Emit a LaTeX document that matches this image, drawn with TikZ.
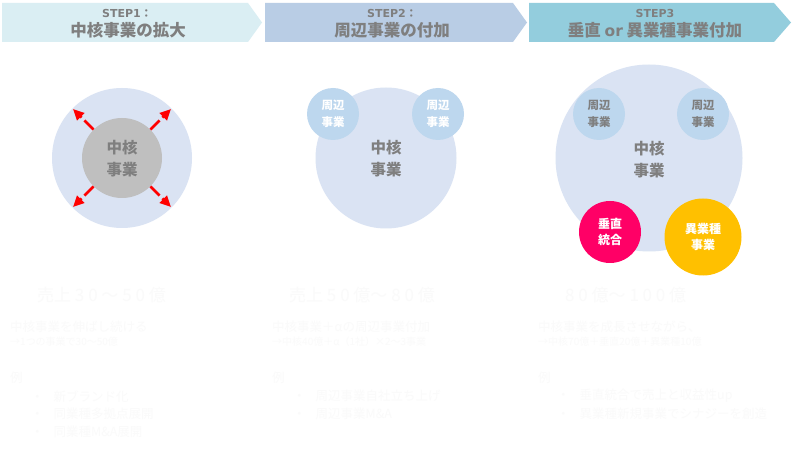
\documentclass[tikz,border=0pt]{standalone}
\usepackage{fontspec}
\setmainfont{Noto Sans CJK JP}
\newfontfamily\latinfont{DejaVu Sans}
\usetikzlibrary{arrows.meta}
\definecolor{hdrA}{HTML}{DAEEF3}
\definecolor{hdrB}{HTML}{B9CDE5}
\definecolor{hdrC}{HTML}{93CDDD}
\definecolor{txtgray}{HTML}{7F7F7F}
\definecolor{bigc}{HTML}{DAE3F3}
\definecolor{corec}{HTML}{BFBFBF}
\definecolor{peric}{HTML}{BDD7EE}
\definecolor{magc}{HTML}{FF0066}
\definecolor{yelc}{HTML}{FFC000}
\definecolor{faint}{HTML}{FAFAFA}
\tikzset{
  hdrsmall/.style={text=txtgray, font=\bfseries\fontsize{11}{13}\selectfont, inner sep=0},
  hdrbig/.style={text=txtgray, font=\bfseries\fontsize{16.5}{18}\selectfont, inner sep=0},
  bigcircle/.style={circle, fill=bigc, inner sep=0, minimum size=#1},
  corecircle/.style={circle, fill=corec, inner sep=0, minimum size=80pt},
  coretext/.style={text=txtgray, align=center, font=\bfseries\fontsize{15.5}{22}\selectfont, inner sep=0},
  pericircle/.style={circle, fill=peric, inner sep=0, minimum size=52pt, align=center,
     font=\bfseries\fontsize{11.5}{17}\selectfont},
  colcircle/.style={circle, fill=#1, inner sep=0, text=white, align=center,
     font=\bfseries\fontsize{12}{15.5}\selectfont},
  redarrow/.style={draw=red, line width=2.6pt, dash pattern=on 13pt off 4pt,
     -{Triangle[length=11pt,width=10pt]}},
  fainthead/.style={text=faint, font=\fontsize{17}{18}\selectfont, anchor=west, inner sep=0},
  faintline/.style={text=faint, font=\fontsize{12.5}{14}\selectfont, anchor=west, inner sep=0},
  faintsmall/.style={text=faint, font=\fontsize{10}{12}\selectfont, anchor=west, inner sep=0},
}
\begin{document}
\begin{tikzpicture}[x=1pt,y=-1pt]
\useasboundingbox (0,0) rectangle (798,449);
\fill[white] (0,0) rectangle (798,449);

% header arrows
\fill[hdrA] (2,3) -- (248,3) -- (262,22.5) -- (248,42) -- (2,42) -- cycle;
\fill[hdrB] (265,3) -- (513,3) -- (527,22.5) -- (513,42) -- (265,42) -- cycle;
\fill[hdrC] (529,3) -- (774,3) -- (791,22.5) -- (774,42) -- (529,42) -- cycle;

\node[hdrsmall] (h1a) at (127,13) {{\latinfont STEP1}：};
\node[hdrbig]   (h1b) at (128,30) {中核事業の拡大};
\node[hdrsmall] (h2a) at (392,13) {{\latinfont STEP2}：};
\node[hdrbig]   (h2b) at (392,30) {周辺事業の付加};
\node[hdrsmall] (h3a) at (655,13) {{\latinfont STEP3}};
\node[hdrbig]   (h3b) at (655,30) {垂直 {\latinfont\fontsize{15.5}{18}\selectfont or} 異業種事業付加};

% step 1
\node[bigcircle=140pt] (big1) at (122,158) {};
\node[corecircle] (core1) at (122,158) {};
\node[coretext] (t1) at (122,159) {中核\\事業};
\coordinate (e1) at (73,109);
\coordinate (e2) at (171,109);
\coordinate (e3) at (73,207);
\coordinate (e4) at (171,207);
\draw[redarrow] (core1.135) -- (e1);
\draw[redarrow] (core1.45) -- (e2);
\draw[redarrow] (core1.225) -- (e3);
\draw[redarrow] (core1.-45) -- (e4);

% step 2
\node[bigcircle=141pt] (big2) at (386,158) {};
\node[coretext] (t2) at (386,159) {中核\\事業};
\node[pericircle, text=white] (p2a) at (333,114) {周辺\\事業};
\node[pericircle, text=white] (p2b) at (438,114) {周辺\\事業};

% step 3
\node[bigcircle=187pt] (big3) at (649,158) {};
\node[coretext] (t3) at (649,160) {中核\\事業};
\node[pericircle, text=txtgray] (p3a) at (599,114) {周辺\\事業};
\node[pericircle, text=txtgray] (p3b) at (703,114) {周辺\\事業};
\node[colcircle=magc, minimum size=62pt] (v3) at (610,232) {垂直\\統合};
\node[colcircle=yelc, minimum size=77pt] (y3) at (703,237) {異業種\\事業};

% faint bottom texts, column 1
\node[fainthead]  (c1h) at (37,295) {売上 3 0 〜 5 0 億};
\node[faintline]  (c1l1) at (10,327) {中核事業を伸ばし続ける};
\node[faintsmall] (c1l2) at (10,342) {→1つの事業で30〜50億};
\node[faintline]  (c1ex) at (10,378) {例};
\node[faintline]  (c1b1) at (31,397) {・\hspace{10pt}新ブランド化};
\node[faintline]  (c1b2) at (31,414) {・\hspace{10pt}同業種多拠点展開};
\node[faintline]  (c1b3) at (31,432) {・\hspace{10pt}同業種M\&A展開};

% column 2
\node[fainthead]  (c2h) at (289,295) {売上 5 0 億〜 8 0 億};
\node[faintline]  (c2l1) at (272,327) {中核事業＋αの周辺事業付加};
\node[faintsmall] (c2l2) at (272,342) {→中核40億＋α（1社）×2〜3事業};
\node[faintline]  (c2ex) at (272,378) {例};
\node[faintline]  (c2b1) at (293,396) {・\hspace{10pt}周辺事業自社立ち上げ};
\node[faintline]  (c2b2) at (293,414) {・\hspace{10pt}周辺事業M\&A};

% column 3
\node[fainthead]  (c3h) at (565,295) {8 0 億〜 1 0 0 億};
\node[faintline]  (c3l1) at (538,327) {中核事業を成長させながら、};
\node[faintsmall] (c3l2) at (538,342) {→中核70億＋垂直20億＋異業種10億};
\node[faintline]  (c3ex) at (538,378) {例};
\node[faintline]  (c3b1) at (557,396) {・\hspace{10pt}垂直統合で売上と収益性up};
\node[faintline]  (c3b2) at (557,414) {・\hspace{10pt}異業種新規事業でシナジーを創造};
\end{tikzpicture}
\end{document}
